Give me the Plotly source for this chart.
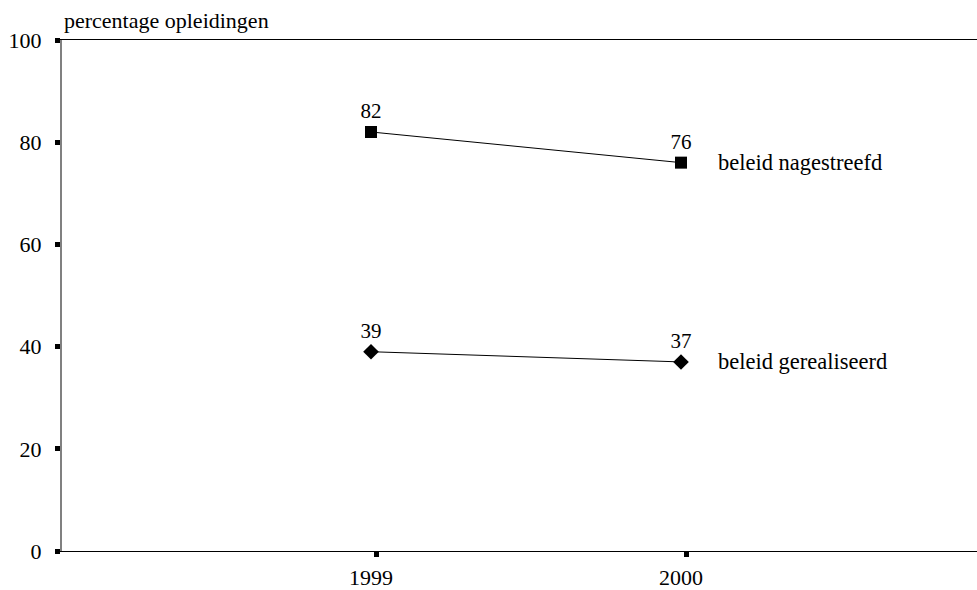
import plotly.graph_objects as go

years = [1999, 2000]
nagestreefd = [82, 76]
gerealiseerd = [39, 37]
series_names = ["beleid nagestreefd", "beleid gerealiseerd"]
y_ticks = [0, 20, 40, 60, 80, 100]
y_title = "percentage opleidingen"

FONT = "'Liberation Serif', 'DejaVu Serif', serif"

fig = go.Figure()
fig.add_trace(go.Scatter(
    x=years, y=nagestreefd, mode="lines+markers+text",
    text=[str(v) for v in nagestreefd], textposition="top center",
    textfont=dict(family=FONT, size=21, color="black"),
    line=dict(color="black", width=1),
    marker=dict(symbol="square", size=12, color="black"),
    cliponaxis=False, showlegend=False))
fig.add_trace(go.Scatter(
    x=years, y=gerealiseerd, mode="lines+markers+text",
    text=[str(v) for v in gerealiseerd], textposition="top center",
    textfont=dict(family=FONT, size=21, color="black"),
    line=dict(color="black", width=1),
    marker=dict(symbol="diamond", size=12, color="black"),
    cliponaxis=False, showlegend=False))

for name, vals in zip(series_names, [nagestreefd, gerealiseerd]):
    fig.add_annotation(x=years[-1], y=vals[-1], text=name, xref="x", yref="y",
                       xanchor="left", yanchor="middle", xshift=35, showarrow=False,
                       font=dict(family=FONT, size=22.5, color="black"))

fig.add_annotation(x=0, y=1, xref="paper", yref="paper", text=y_title,
                   xanchor="left", yanchor="bottom", yshift=5, showarrow=False,
                   font=dict(family=FONT, size=22, color="black"))

px_per_year = 310
x0 = 1999 - 309 / px_per_year
x1 = 2000 + 296 / px_per_year
shift = 5 / px_per_year

fig.update_layout(
    width=977, height=590,
    margin=dict(l=62, r=0, t=40, b=39),
    paper_bgcolor="white", plot_bgcolor="white",
    font=dict(family=FONT, size=22, color="black"),
    xaxis=dict(range=[x0, x1], tickvals=years, ticktext=[str(y) for y in years],
               showgrid=False, zeroline=False, showline=True, linecolor="black",
               linewidth=1, mirror=True, ticks="", ticklabelstandoff=7,
               automargin=False, tickfont=dict(family=FONT, size=22)),
    xaxis2=dict(range=[x0 - shift, x1 - shift], overlaying="x", side="bottom",
                tickvals=years, showticklabels=False, ticks="outside",
                ticklen=5, tickwidth=5, tickcolor="black", showgrid=False,
                zeroline=False, showline=False, anchor="y", automargin=False),
    yaxis=dict(range=[0, 100], tickvals=y_ticks, showgrid=False, zeroline=False,
               showline=True, linecolor="#808080", linewidth=2,
               ticks="outside", ticklen=5, tickwidth=5, tickcolor="black",
               ticklabelstandoff=9, automargin=False,
               tickfont=dict(family=FONT, size=22)),
)
fig.add_trace(go.Scatter(x=years, y=[None, None], xaxis="x2", showlegend=False,
                         hoverinfo="skip"))

fig.write_html("out.html")
